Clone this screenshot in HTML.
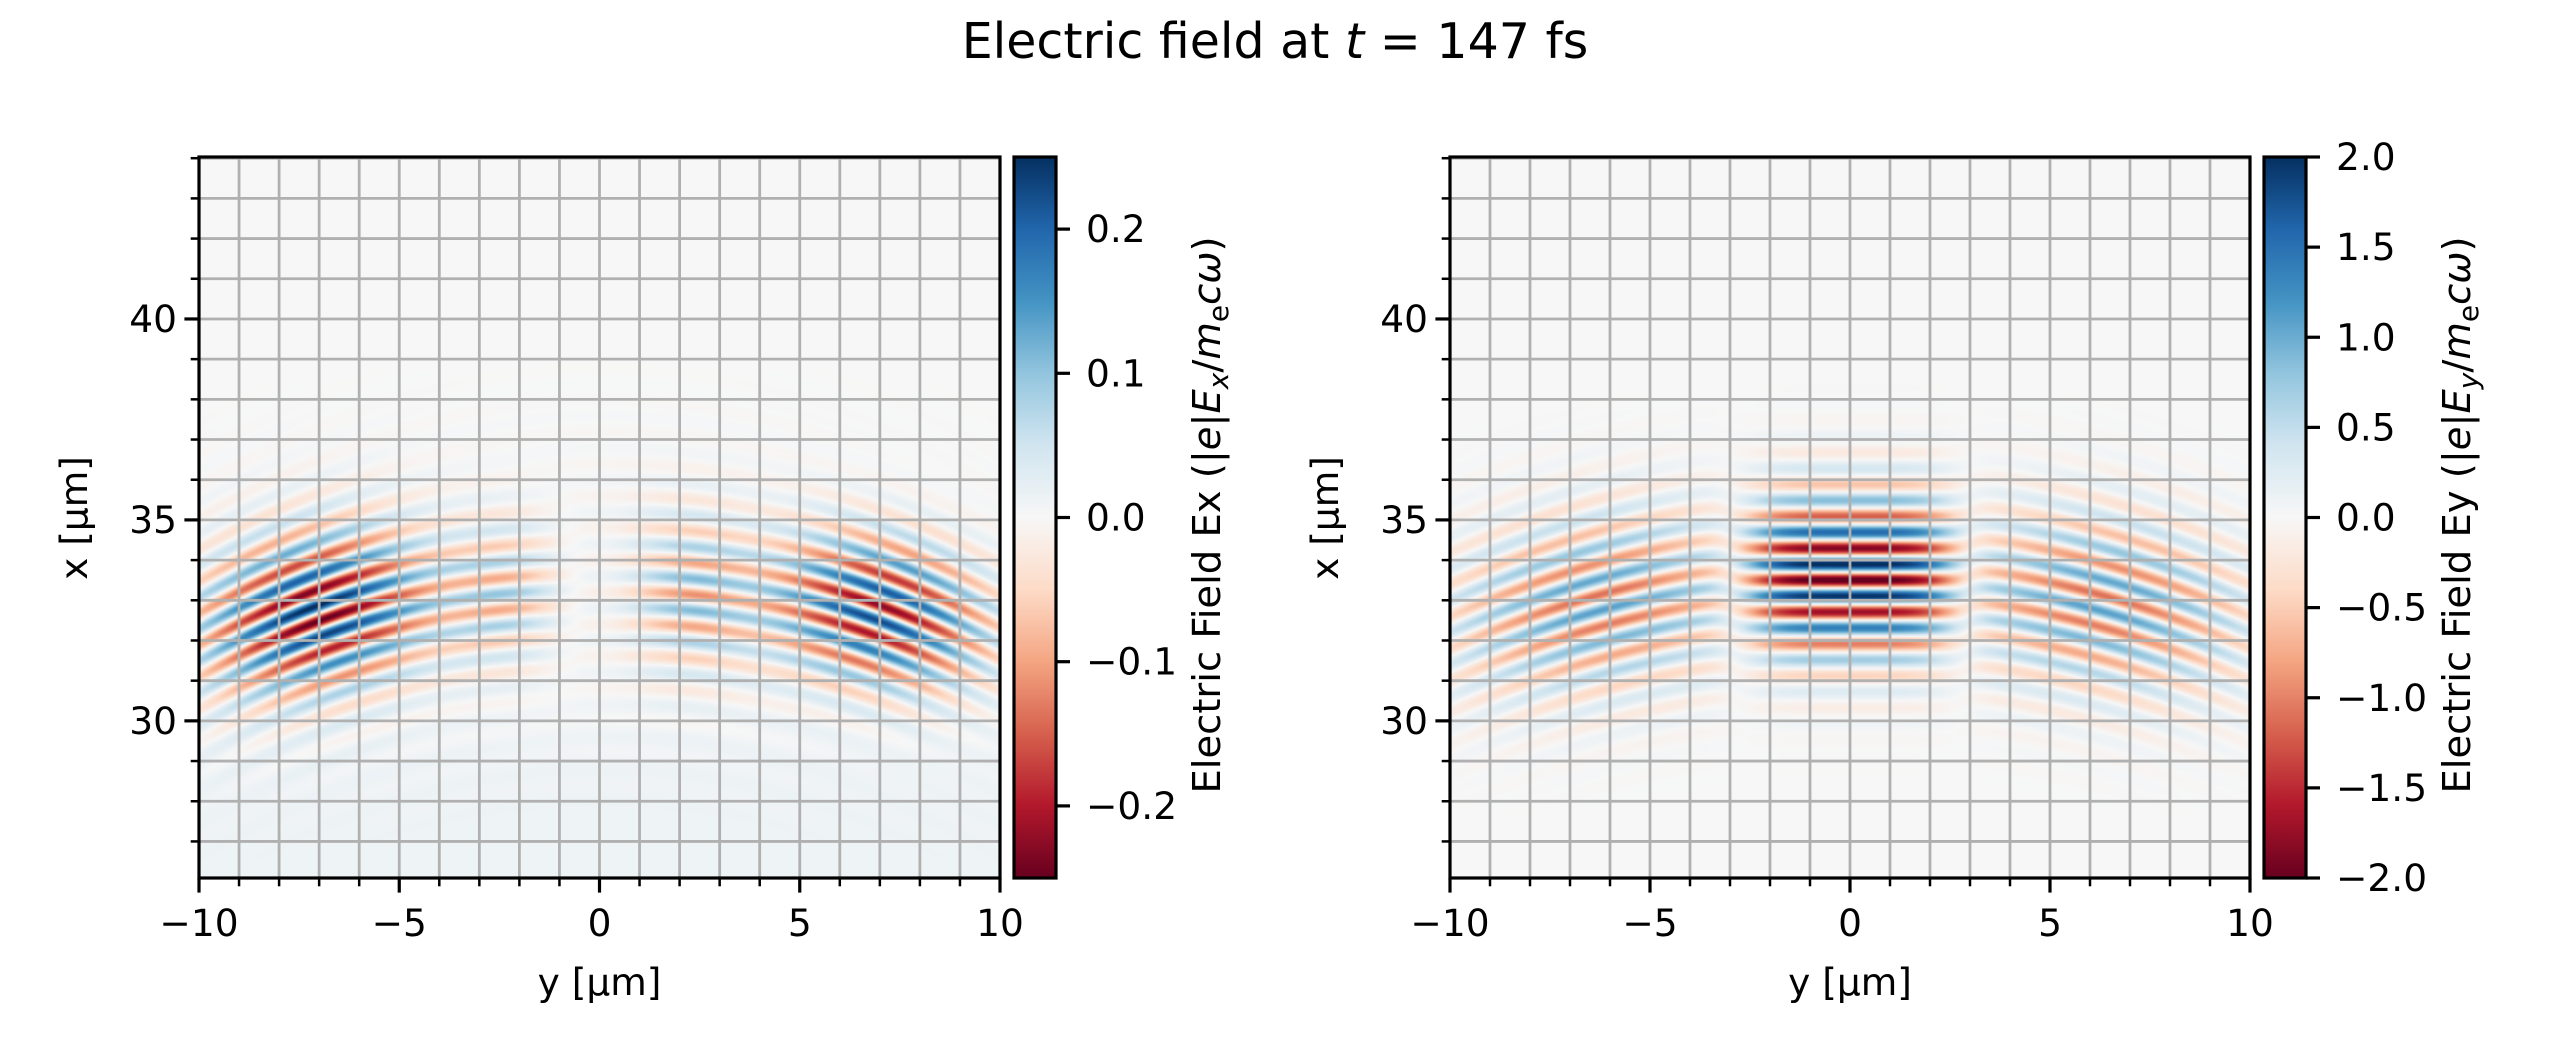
<!DOCTYPE html>
<html><head><meta charset="utf-8">
<style>
html,body{margin:0;padding:0;background:#fff;}
#wrap{position:relative;width:2550px;height:1050px;overflow:hidden;font-family:"DejaVu Sans","Liberation Sans",sans-serif;}
canvas{position:absolute;}
svg{position:absolute;left:0;top:0;}
</style></head><body>
<div id="wrap">
<canvas id="c1" width="801" height="721" style="left:199px;top:157px"></canvas>
<canvas id="c2" width="800" height="721" style="left:1450px;top:157px"></canvas>
<svg id="s" width="2550" height="1050" xmlns="http://www.w3.org/2000/svg" font-family="DejaVu Sans, Liberation Sans, sans-serif">
<defs>
<linearGradient id="rdbu" x1="0" y1="1" x2="0" y2="0">
<stop offset="0" stop-color="#67001f"/><stop offset="0.1" stop-color="#b2182b"/><stop offset="0.2" stop-color="#d6604d"/><stop offset="0.3" stop-color="#f4a582"/><stop offset="0.4" stop-color="#fddbc7"/><stop offset="0.5" stop-color="#f7f7f7"/><stop offset="0.6" stop-color="#d1e5f0"/><stop offset="0.7" stop-color="#92c5de"/><stop offset="0.8" stop-color="#4393c3"/><stop offset="0.9" stop-color="#2166ac"/><stop offset="1" stop-color="#053061"/>
</linearGradient>
</defs>
<text x="1275" y="58" font-size="49" text-anchor="middle">Electric field at <tspan font-style="italic">t</tspan> = 147 fs</text>
<g id="g"></g>
</svg>
</div>
<script>
var stops=[[103,0,31],[178,24,43],[214,96,77],[244,165,130],[253,219,199],[247,247,247],[209,229,240],[146,197,222],[67,147,195],[33,102,172],[5,48,97]];
function cmap(t){t=Math.max(0,Math.min(1,t));var f=t*10,i=Math.min(9,Math.floor(f)),r=f-i;var a=stops[i],b=stops[i+1];return [a[0]+(b[0]-a[0])*r,a[1]+(b[1]-a[1])*r,a[2]+(b[2]-a[2])*r];}
var XT=44.03, XB=26.09;
function draw(id,fn,vmax){
 var c=document.getElementById(id),ctx=c.getContext('2d'),W=c.width,H=c.height;
 var im=ctx.createImageData(W,H),d=im.data;
 for(var j=0;j<H;j++){var x=XT-(j+0.5)/H*(XT-XB);
  for(var i=0;i<W;i++){var y=-10+(i+0.5)/W*20;
   var v=fn(y,x);var col=cmap(0.5+v/(2*vmax));var k=(j*W+i)*4;
   d[k]=col[0];d[k+1]=col[1];d[k+2]=col[2];d[k+3]=255;}}
 ctx.putImageData(im,0,0);
}
var P=0.8,TP=2*Math.PI;
function ey(y,x){
 var ay=Math.abs(y);
 var cen=2.1*Math.exp(-Math.pow(ay/2.7,4))*Math.exp(-Math.pow((x-33.6)/2.0,2))*(-Math.cos(TP*(x-34.3)/P));
 var sa=1.1*Math.exp(-Math.pow((ay-6.3)/3.8,2))*(1-Math.exp(-Math.pow(ay/2.9,6)));
 var xc=33.3-0.009*y*y;
 var side=sa*Math.exp(-Math.pow((x-xc)/2.2,2))*Math.cos(TP*(x+0.022*y*y)/P);
 return cen+side;
}
function ex(y,x){
 var ay=Math.abs(y),s=y<0?-1:1;
 var a=0.24*Math.exp(-Math.pow((ay-7)/2.8,2))+0.09*Math.exp(-Math.pow((ay-2.3)/1.4,2));
 a*=(1-Math.exp(-Math.pow(y/0.5,2)));
 var xc=33.2-0.01*y*y;
 var v=s*a*Math.exp(-Math.pow((x-xc)/1.9,2))*Math.cos(TP*(x+0.03*y*y-0.05*ay)/P);
 v+=0.05*Math.exp(-Math.pow((x-xc)/3.2,2))*Math.cos(TP*(x+0.03*y*y)/P)*0.3;
 v+=0.012/(1+Math.exp((x-30)*2));
 return v;
}
draw('c1',ex,0.25);draw('c2',ey,2.0);

var NS='http://www.w3.org/2000/svg',g=document.getElementById('g');
function el(t,a,txt){var e=document.createElementNS(NS,t);for(var k in a)e.setAttribute(k,a[k]);if(txt!==undefined)e.textContent=txt;g.appendChild(e);return e;}
var TOP=157,H=721;
function Yx(x){return TOP+(XT-x)/(XT-XB)*H;}
function axes(L,W,cbx,vmax,ticks,lab,sub){
 var X=function(y){return L+(y+10)/20*W;};
 for(var y=-9;y<=9;y++)el('line',{x1:X(y),x2:X(y),y1:TOP,y2:TOP+H,stroke:'#b0b0b0','stroke-width':2.8});
 for(var x=27;x<=44;x++)el('line',{x1:L,x2:L+W,y1:Yx(x),y2:Yx(x),stroke:'#b0b0b0','stroke-width':2.8});
 el('rect',{x:L,y:TOP,width:W,height:H,fill:'none',stroke:'#000','stroke-width':3.2});
 for(var y=-10;y<=10;y++){var maj=(y%5==0);el('line',{x1:X(y),x2:X(y),y1:TOP+H,y2:TOP+H+(maj?14.6:8.3),stroke:'#000','stroke-width':maj?3.2:2.5});
  if(maj)el('text',{x:X(y),y:936,'font-size':37.5,'text-anchor':'middle'},(y<0?'\u2212':'')+Math.abs(y));}
 for(var x=27;x<=44;x++){var maj=(x%5==0);el('line',{x1:L,x2:L-(maj?14.6:8.3),y1:Yx(x),y2:Yx(x),stroke:'#000','stroke-width':maj?3.2:2.5});
  if(maj)el('text',{x:L-22,y:Yx(x)+13,'font-size':37.5,'text-anchor':'end'},''+x);}
 el('text',{x:L+W/2,y:995,'font-size':37.5,'text-anchor':'middle'},'y [\u00b5m]');
 el('text',{x:0,y:0,'font-size':37.5,'text-anchor':'middle',transform:'translate('+(L-112)+',518) rotate(-90)'},'x [\u00b5m]');
 el('rect',{x:cbx,y:TOP,width:42,height:H,fill:'url(#rdbu)',stroke:'#000','stroke-width':3.2});
 ticks.forEach(function(v){var yy=TOP+(vmax-v)/(2*vmax)*H;el('line',{x1:cbx+42,x2:cbx+56,y1:yy,y2:yy,stroke:'#000','stroke-width':3.2});
  el('text',{x:cbx+72,y:yy+13,'font-size':37.5},(v<0?'\u2212':'')+Math.abs(v).toFixed(1));});
 var tt=el('text',{x:0,y:0,'font-size':38.5,'text-anchor':'middle',transform:'translate('+(cbx+206)+',515) rotate(-90)'});
 tt.innerHTML='Electric Field '+lab+' (|<tspan font-style="italic">e</tspan>|<tspan font-style="italic">E</tspan><tspan font-style="italic" font-size="28" dy="8">'+sub+'</tspan><tspan dy="-8">/</tspan><tspan font-style="italic">m</tspan><tspan font-size="28" dy="8">e</tspan><tspan font-style="italic" dy="-8">c\u03c9</tspan>)';
}
axes(199,801,1014,0.25,[0.2,0.1,0.0,-0.1,-0.2],'Ex','x');
axes(1450,800,2264,2.0,[2,1.5,1,0.5,0,-0.5,-1,-1.5,-2],'Ey','y');
</script>
</body></html>
